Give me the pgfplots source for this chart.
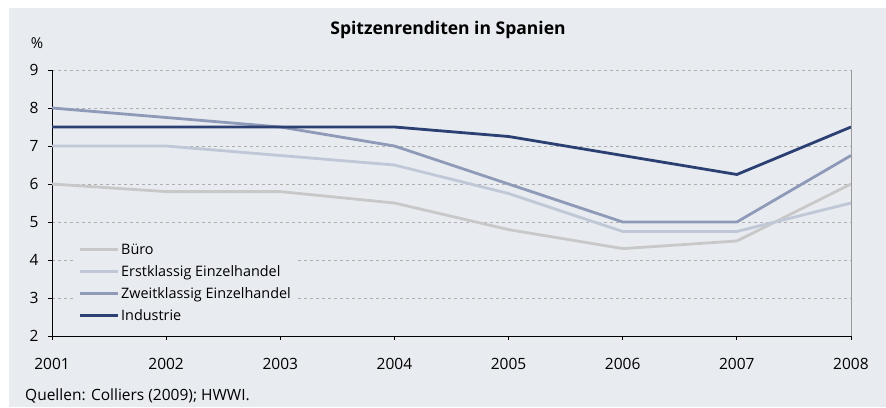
\documentclass[border=0pt]{standalone}
\usepackage{pgfplots}
\pgfplotsset{compat=1.18}
\usepackage{fontspec}
\setmainfont{Open Sans}
\definecolor{panel}{RGB}{232,235,240}
\definecolor{bueroc}{RGB}{200,200,200}
\definecolor{erstc}{RGB}{192,200,216}
\definecolor{zweitc}{RGB}{142,154,184}
\definecolor{indc}{RGB}{43,63,114}
\definecolor{gridc}{RGB}{175,175,175}
\begin{document}
\begin{tikzpicture}[x=1pt,y=1pt]
\fill[white] (0,0) rectangle (886,407);
\fill[panel] (9,0) rectangle (886,399);
\begin{axis}[
    at={(52pt,71pt)}, anchor=south west,
    scale only axis, width=799pt, height=266pt,
    xmin=2001, xmax=2008, ymin=2, ymax=9,
    xtick={2001,...,2008}, ytick={2,...,9},
    axis lines*=left,
    axis line style={black, line width=0.8pt},
    tick align=outside, major tick length=4pt,
    tick style={black, line width=0.8pt},
    ymajorgrids, grid style={gridc, dashed, line width=0.6pt},
    /pgf/number format/1000 sep={},
    /pgf/number format/assume math mode=true,
    tick label style={font=\fontsize{15.5}{18}\selectfont},
    xticklabel style={anchor=north, yshift=-15pt},
    yticklabel shift=6pt,
    legend style={at={(0.029,0.366)}, anchor=north west, fill=panel, draw=none,
        font=\fontsize{14.4}{17}\selectfont, row sep=5.6pt, inner sep=3pt},
    legend cell align=left,
    legend image code/.code={\draw[#1] (0pt,0pt) -- (38pt,0pt);},
    every axis plot/.append style={line width=2.8pt},
    clip=false,
]
\addplot[bueroc] coordinates {(2001,6) (2002,5.8) (2003,5.8) (2004,5.5) (2005,4.8) (2006,4.3) (2007,4.5) (2008,6.0)};
\addplot[erstc] coordinates {(2001,7) (2002,7) (2003,6.75) (2004,6.5) (2005,5.75) (2006,4.75) (2007,4.75) (2008,5.5)};
\addplot[zweitc] coordinates {(2001,8) (2002,7.75) (2003,7.5) (2004,7) (2005,6) (2006,5) (2007,5) (2008,6.75)};
\addplot[indc] coordinates {(2001,7.5) (2002,7.5) (2003,7.5) (2004,7.5) (2005,7.25) (2006,6.75) (2007,6.25) (2008,7.5)};
\legend{B\"uro, Erstklassig Einzelhandel, Zweitklassig Einzelhandel, Industrie}
\draw[gray!80, line width=0.8pt] (axis cs:2008,2) -- (axis cs:2008,9);
\end{axis}
\node[font=\fontsize{17.5}{20}\selectfont\bfseries] at (448,377) {Spitzenrenditen in Spanien};
\node[font=\fontsize{15}{18}\selectfont] at (37,364) {\%};
\node[font=\fontsize{15.5}{18}\selectfont, anchor=west, inner sep=0pt] at (25,11) {Quellen: Colliers (2009); HWWI.};
\pgfresetboundingbox
\path (0,0) rectangle (886,407);
\end{tikzpicture}
\end{document}
